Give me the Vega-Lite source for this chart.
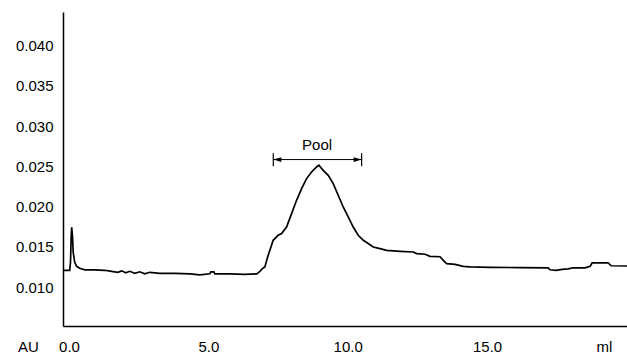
{
  "$schema": "https://vega.github.io/schema/vega-lite/v6.json",
  "width": 564,
  "height": 314,
  "autosize": {"type": "none"},
  "padding": {"left": 63, "top": 12, "right": 0, "bottom": 28},
  "background": "white",
  "config": {
    "view": {"stroke": null},
    "font": "Liberation Sans",
    "axis": {
      "labelFont": "Liberation Sans",
      "titleFont": "Liberation Sans",
      "labelFontSize": 15,
      "titleFontSize": 15,
      "titleFontWeight": "normal",
      "labelColor": "black",
      "titleColor": "black",
      "domainColor": "black",
      "domainWidth": 1.5,
      "ticks": false,
      "tickSize": 0,
      "grid": false
    }
  },
  "datasets": {
    "trace": [
      {"ml": -0.208, "au": 0.01208},
      {"ml": 0.025, "au": 0.01208},
      {"ml": 0.054, "au": 0.01307},
      {"ml": 0.079, "au": 0.01631},
      {"ml": 0.097, "au": 0.01742},
      {"ml": 0.126, "au": 0.01631},
      {"ml": 0.151, "au": 0.01432},
      {"ml": 0.205, "au": 0.01307},
      {"ml": 0.276, "au": 0.01257},
      {"ml": 0.384, "au": 0.01233},
      {"ml": 0.564, "au": 0.01214},
      {"ml": 0.923, "au": 0.01214},
      {"ml": 1.282, "au": 0.01208},
      {"ml": 1.533, "au": 0.01195},
      {"ml": 1.749, "au": 0.01183},
      {"ml": 1.892, "au": 0.01201},
      {"ml": 2.036, "au": 0.01177},
      {"ml": 2.18, "au": 0.01195},
      {"ml": 2.359, "au": 0.0117},
      {"ml": 2.539, "au": 0.01189},
      {"ml": 2.718, "au": 0.01164},
      {"ml": 2.898, "au": 0.01183},
      {"ml": 3.257, "au": 0.0117},
      {"ml": 3.796, "au": 0.0117},
      {"ml": 4.334, "au": 0.01164},
      {"ml": 4.693, "au": 0.01152},
      {"ml": 5.052, "au": 0.01164},
      {"ml": 5.088, "au": 0.01189},
      {"ml": 5.196, "au": 0.01189},
      {"ml": 5.232, "au": 0.01164},
      {"ml": 5.77, "au": 0.01164},
      {"ml": 6.309, "au": 0.01158},
      {"ml": 6.74, "au": 0.01164},
      {"ml": 6.848, "au": 0.01195},
      {"ml": 6.955, "au": 0.01233},
      {"ml": 7.027, "au": 0.01249},
      {"ml": 7.135, "au": 0.01382},
      {"ml": 7.207, "au": 0.01456},
      {"ml": 7.325, "au": 0.01581},
      {"ml": 7.505, "au": 0.01643},
      {"ml": 7.627, "au": 0.01664},
      {"ml": 7.806, "au": 0.01746},
      {"ml": 7.986, "au": 0.01913},
      {"ml": 8.165, "au": 0.02078},
      {"ml": 8.345, "au": 0.02224},
      {"ml": 8.524, "au": 0.02348},
      {"ml": 8.704, "au": 0.0243},
      {"ml": 8.883, "au": 0.02493},
      {"ml": 8.966, "au": 0.02514},
      {"ml": 9.12, "au": 0.02451},
      {"ml": 9.3, "au": 0.02389},
      {"ml": 9.48, "au": 0.02286},
      {"ml": 9.659, "au": 0.02141},
      {"ml": 9.838, "au": 0.01995},
      {"ml": 10.018, "au": 0.01871},
      {"ml": 10.197, "au": 0.01746},
      {"ml": 10.377, "au": 0.01643},
      {"ml": 10.557, "au": 0.01581},
      {"ml": 10.736, "au": 0.0154},
      {"ml": 10.916, "au": 0.01498},
      {"ml": 11.156, "au": 0.01478},
      {"ml": 11.397, "au": 0.01456},
      {"ml": 11.874, "au": 0.01444},
      {"ml": 12.352, "au": 0.01435},
      {"ml": 12.474, "au": 0.01415},
      {"ml": 12.772, "au": 0.01407},
      {"ml": 12.951, "au": 0.01382},
      {"ml": 13.311, "au": 0.01376},
      {"ml": 13.429, "au": 0.01332},
      {"ml": 13.551, "au": 0.01291},
      {"ml": 13.849, "au": 0.01282},
      {"ml": 14.147, "au": 0.01257},
      {"ml": 14.388, "au": 0.01251},
      {"ml": 15.106, "au": 0.01245},
      {"ml": 16.183, "au": 0.01241},
      {"ml": 17.188, "au": 0.01239},
      {"ml": 17.26, "au": 0.01214},
      {"ml": 17.476, "au": 0.01208},
      {"ml": 17.691, "au": 0.0122},
      {"ml": 17.907, "au": 0.01226},
      {"ml": 18.086, "au": 0.01239},
      {"ml": 18.517, "au": 0.01239},
      {"ml": 18.697, "au": 0.01257},
      {"ml": 18.768, "au": 0.01299},
      {"ml": 19.343, "au": 0.01299},
      {"ml": 19.451, "au": 0.01264},
      {"ml": 20.02, "au": 0.01261}
    ],
    "pool": [
      {"label": "Pool", "from": 7.33, "to": 10.5, "mid": 8.9, "level": 0.02585, "low": 0.02503, "high": 0.02662, "textLevel": 0.0270}
    ]
  },
  "layer": [
    {
      "data": {"name": "trace"},
      "mark": {"type": "line", "color": "black", "strokeWidth": 1.7, "clip": true},
      "encoding": {
        "x": {
          "field": "ml", "type": "quantitative",
          "scale": {"domain": [-0.215, 20.02], "nice": false, "zero": false},
          "axis": {
            "values": [0, 5, 10, 15],
            "format": ".1f",
            "labelPadding": 25,
            "labelBaseline": "alphabetic",
            "title": "ml",
            "titleX": 541,
            "titleY": 25,
            "titleAlign": "center",
            "titleBaseline": "alphabetic"
          }
        },
        "y": {
          "field": "au", "type": "quantitative",
          "scale": {"domain": [0.00515, 0.0442], "nice": false, "zero": false},
          "axis": {
            "values": [0.010, 0.015, 0.020, 0.025, 0.030, 0.035, 0.040],
            "format": ".3f",
            "labelPadding": 10,
            "title": "AU",
            "titleAngle": 0,
            "titleX": -35,
            "titleY": 339,
            "titleAlign": "center",
            "titleBaseline": "alphabetic"
          }
        }
      }
    },
    {
      "data": {"name": "pool"},
      "mark": {"type": "rule", "color": "black", "strokeWidth": 1},
      "encoding": {
        "x": {"field": "from", "type": "quantitative"},
        "x2": {"field": "to"},
        "y": {"field": "level", "type": "quantitative"}
      }
    },
    {
      "data": {"name": "pool"},
      "mark": {"type": "rule", "color": "black", "strokeWidth": 1.2},
      "encoding": {
        "x": {"field": "from", "type": "quantitative"},
        "y": {"field": "low", "type": "quantitative"},
        "y2": {"field": "high"}
      }
    },
    {
      "data": {"name": "pool"},
      "mark": {"type": "rule", "color": "black", "strokeWidth": 1.2},
      "encoding": {
        "x": {"field": "to", "type": "quantitative"},
        "y": {"field": "low", "type": "quantitative"},
        "y2": {"field": "high"}
      }
    },
    {
      "data": {"name": "pool"},
      "mark": {"type": "point", "shape": "M0,0L2,-0.6L2,0.6Z", "size": 64, "filled": true, "color": "black", "opacity": 1},
      "encoding": {
        "x": {"field": "from", "type": "quantitative"},
        "y": {"field": "level", "type": "quantitative"}
      }
    },
    {
      "data": {"name": "pool"},
      "mark": {"type": "point", "shape": "M0,0L-2,-0.6L-2,0.6Z", "size": 64, "filled": true, "color": "black", "opacity": 1},
      "encoding": {
        "x": {"field": "to", "type": "quantitative"},
        "y": {"field": "level", "type": "quantitative"}
      }
    },
    {
      "data": {"name": "pool"},
      "mark": {"type": "text", "font": "Liberation Sans", "fontSize": 15, "color": "black", "align": "center", "baseline": "alphabetic"},
      "encoding": {
        "x": {"field": "mid", "type": "quantitative"},
        "y": {"field": "textLevel", "type": "quantitative"},
        "text": {"field": "label"}
      }
    }
  ]
}
